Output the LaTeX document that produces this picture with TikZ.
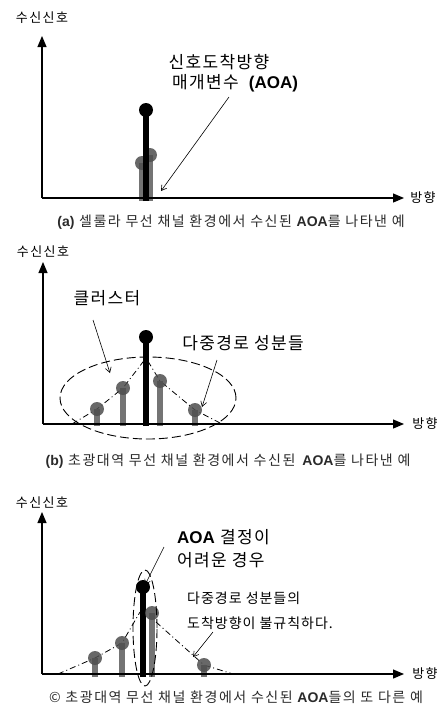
\documentclass[tikz,border=0pt]{standalone}
\usepackage{fontspec}
\setmainfont{Noto Sans CJK KR}
\newfontfamily\latfont{Liberation Sans}
\usetikzlibrary{arrows.meta}
\definecolor{stemgray}{HTML}{747474}
\definecolor{dotgray}{HTML}{4E4E4E}
\definecolor{capgray}{HTML}{2A2A2A}
\newcommand{\AOAtxt}{{\latfont\bfseries AOA}}
\tikzset{
  axis/.style={line width=1.2pt,-{Triangle[length=11pt,width=9pt]}},
  mainstem/.style={line width=5.5pt},
  sidestem/.style={line width=6pt,stemgray},
  pointer/.style={line width=0.6pt,-{Straight Barb[length=5pt,width=6pt]}},
  envelope/.style={line width=0.8pt,dash pattern=on 6pt off 3pt on 1pt off 3pt},
  cluster/.style={line width=0.9pt,dash pattern=on 9pt off 4pt},
  axlbl/.style={font=\fontsize{13}{15}\selectfont\addfontfeature{LetterSpace=11},inner sep=0pt},
  note/.style={font=\fontsize{17}{20}\selectfont\addfontfeature{LetterSpace=8},inner sep=0pt},
  small note/.style={font=\fontsize{14}{16}\selectfont\addfontfeature{LetterSpace=7},inner sep=0pt,align=left},
  caption/.style={font=\fontsize{14}{16}\selectfont\addfontfeature{LetterSpace=11},inner sep=0pt,text=capgray}
}
\begin{document}
\begin{tikzpicture}[x=1pt,y=-1pt,line join=round]
\useasboundingbox (0,0) rectangle (442,713);
% ---------- (a) ----------
\coordinate (Oa) at (42,198);
\coordinate (Ya) at (42,36);
\coordinate (Xa) at (404,198);
\coordinate (tipA) at (161,191);
\foreach \x/\y in {142/163,150/155}{
  \draw[sidestem] (\x,201)--(\x,\y);
  \fill[dotgray,opacity=0.85] (\x,\y) circle (7pt);
}
\draw[mainstem] (146,201)--(146,110);
\fill (146,110) circle (7pt);
\draw[axis] (Oa)--(Ya);
\draw[axis] (Oa)--(Xa);
\node[axlbl] (ya) at (42,18) {수신신호};
\node[axlbl] (xa) at (423,198) {방향};
\node[note] (aoaTop) at (219,62) {신호도착방향};
\node[note,anchor=west] (aoaA) at (172,83) {매개변수\hspace{10pt}{\latfont\bfseries (AOA)}};
\draw[pointer] (229,97)--(tipA);
\node[caption] (capA) at (231,222) {{\latfont\bfseries (a)} 셀룰라 무선 채널 환경에서 수신된 \AOAtxt{}를 나타낸 예};
% ---------- (b) ----------
\coordinate (Ob) at (43,424);
\coordinate (Yb) at (43,262);
\coordinate (Xb) at (404,424);
\coordinate (apexB) at (146,358);
\coordinate (tipClu) at (110,373);
\coordinate (tipMul) at (202,407);
\draw[cluster] (148,398) ellipse (88pt and 41pt);
\draw[envelope] (72,424)--(97,409)--(123,388)--(apexB)--(160,381)--(195,410)--(222,424);
\foreach \x/\y in {97/409,123/388,160/381,195/410}{
  \draw[sidestem] (\x,426)--(\x,\y);
  \fill[dotgray,opacity=0.85] (\x,\y) circle (7pt);
}
\draw[mainstem] (146,426)--(146,337);
\fill (146,337) circle (7pt);
\draw[axis] (Ob)--(Yb);
\draw[axis] (Ob)--(Xb);
\node[axlbl] (yb) at (43,252) {수신신호};
\node[axlbl] (xb) at (425,424) {방향};
\node[note] (clu) at (107,298) {클러스터};
\node[note] (mul) at (243,343) {다중경로 성분들};
\draw[pointer] (93,320)--(tipClu);
\draw[pointer] (217,360)--(tipMul);
\node[caption] (capB) at (228,461) {{\latfont\bfseries (b)} 초광대역 무선 채널 환경에서 수신된 \,\AOAtxt{}를 나타낸 예};
% ---------- (c) ----------
\coordinate (Oc) at (42,674);
\coordinate (Yc) at (42,512);
\coordinate (Xc) at (404,674);
\coordinate (tipHard) at (145,585);
\coordinate (tipIrr) at (193,657);
\draw[envelope] (58,674)--(95,658)--(122,643)--(140,612);
\draw[envelope] (156,622)--(204,665)--(233,674);
\foreach \x/\y in {95/658,122/643,204/665}{
  \draw[sidestem] (\x,677)--(\x,\y);
  \fill[dotgray,opacity=0.85] (\x,\y) circle (7pt);
}
\draw[mainstem] (143,677)--(143,587);
\fill (143,587) circle (7pt);
\draw[sidestem] (152,677)--(152,613);
\fill[dotgray,opacity=0.85] (152,613) circle (7pt);
\draw[cluster] (145,628) ellipse (12pt and 58pt);
\draw[axis] (Oc)--(Yc);
\draw[axis] (Oc)--(Xc);
\node[axlbl] (yc) at (42,503) {수신신호};
\node[axlbl] (xc) at (425,674) {방향};
\node[note,anchor=west] (hard1) at (177,537) {\AOAtxt{} 결정이};
\node[note,anchor=west] (hard2) at (177,560) {어려운 경우};
\draw[pointer] (164,547)--(tipHard);
\node[small note,anchor=west] (irr1) at (187,598) {다중경로 성분들의};
\node[small note,anchor=west] (irr2) at (187,623) {도착방향이 불규칙하다.};
\draw[pointer] (213,632)--(tipIrr);
\node[caption] (capC) at (236,697) {© 초광대역 무선 채널 환경에서 수신된 \AOAtxt{}들의 또 다른 예};
\end{tikzpicture}
\end{document}
